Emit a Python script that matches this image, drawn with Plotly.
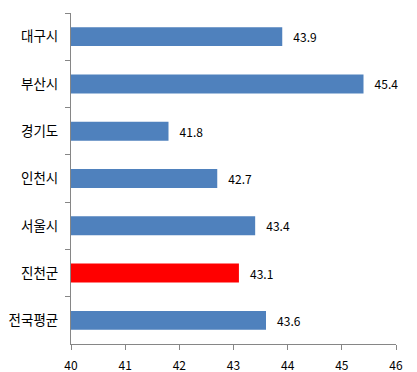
import plotly.graph_objects as go

categories = ["대구시", "부산시", "경기도", "인천시", "서울시", "진천군", "전국평균"]
values = [43.9, 45.4, 41.8, 42.7, 43.4, 43.1, 43.6]
colors = ["#4F81BD", "#4F81BD", "#4F81BD", "#4F81BD", "#4F81BD", "#FF0000", "#4F81BD"]
x_ticks = [40, 41, 42, 43, 44, 45, 46]

fig = go.Figure(go.Bar(
    y=categories, x=values, orientation="h",
    marker=dict(color=colors, line=dict(width=0)),
    text=[f"   {v:.1f}" for v in values], textposition="outside",
    textfont=dict(family="Noto Sans CJK KR, Noto Sans, sans-serif", size=12, color="black"),
    cliponaxis=False, width=0.4,
))

fig.update_layout(
    width=417, height=372,
    margin=dict(l=71, r=21, t=13, b=28),
    paper_bgcolor="white", plot_bgcolor="white",
    showlegend=False,
    font=dict(family="Noto Sans CJK KR, Noto Sans, sans-serif", size=12, color="black"),
)
fig.update_xaxes(
    range=[40, 46], tickvals=x_ticks, showgrid=False, zeroline=False,
    showline=True, linecolor="#868686", linewidth=1, automargin=False,
    ticks="outside", ticklen=5, tickcolor="#868686",
    tickfont=dict(size=12), ticklabelstandoff=6,
)
fig.update_yaxes(
    categoryorder="array", categoryarray=categories, autorange="reversed",
    showgrid=False, zeroline=False, showline=True, linecolor="#868686", linewidth=1,
    automargin=False,
    ticks="outside", ticklen=5, tickcolor="#868686", tickson="boundaries",
    tickfont=dict(size=13.5), ticklabelstandoff=9,
)

fig.write_html(
    "out.html",
    config={"displayModeBar": False},
    post_script="document.body.style.margin='0';document.body.style.padding='0';",
)
